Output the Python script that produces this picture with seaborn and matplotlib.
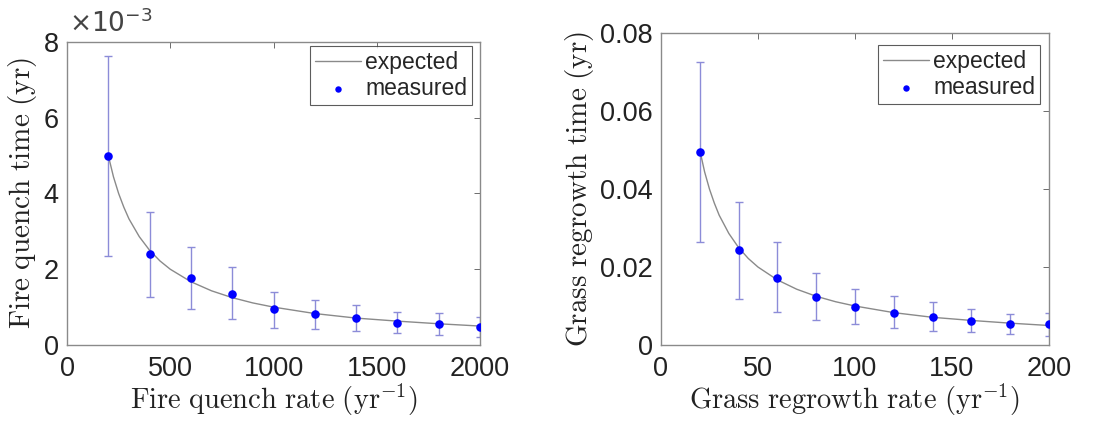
import matplotlib
matplotlib.use("Agg")
import matplotlib.pyplot as plt
import seaborn as sns
import pandas as pd

# ---- data ----
fire_rate = [200, 400, 600, 800, 1000, 1200, 1400, 1600, 1800, 2000]
fire_time = [5.0e-3, 2.40e-3, 1.76e-3, 1.35e-3, 0.94e-3, 0.81e-3, 0.70e-3, 0.59e-3, 0.56e-3, 0.48e-3]
fire_upper = [7.62e-3, 3.52e-3, 2.60e-3, 2.05e-3, 1.41e-3, 1.19e-3, 1.06e-3, 0.88e-3, 0.84e-3, 0.75e-3]
fire_lower = [2.35e-3, 1.28e-3, 0.94e-3, 0.68e-3, 0.44e-3, 0.41e-3, 0.37e-3, 0.31e-3, 0.26e-3, 0.22e-3]
fire_curve_rate = [200, 225, 250, 275, 300, 350, 400, 450, 500, 600, 700, 800, 900, 1000, 1200, 1400, 1600, 1800, 2000]
fire_curve_time = [5.0e-3, 4.44e-3, 4.0e-3, 3.64e-3, 3.33e-3, 2.86e-3, 2.5e-3, 2.22e-3, 2.0e-3, 1.67e-3,
                   1.43e-3, 1.25e-3, 1.11e-3, 1.0e-3, 0.83e-3, 0.71e-3, 0.63e-3, 0.56e-3, 0.5e-3]

grass_rate = [20, 40, 60, 80, 100, 120, 140, 160, 180, 200]
grass_time = [0.0496, 0.0244, 0.0173, 0.0124, 0.0097, 0.0081, 0.0073, 0.0062, 0.0054, 0.0054]
grass_upper = [0.0727, 0.0366, 0.0265, 0.0184, 0.0144, 0.0126, 0.0111, 0.0092, 0.0080, 0.0081]
grass_lower = [0.0263, 0.0118, 0.0084, 0.0064, 0.0053, 0.0043, 0.0036, 0.0033, 0.0028, 0.0024]
grass_curve_rate = [20, 22.5, 25, 27.5, 30, 35, 40, 45, 50, 60, 70, 80, 90, 100, 120, 140, 160, 180, 200]
grass_curve_time = [0.05, 0.0444, 0.04, 0.0364, 0.0333, 0.0286, 0.025, 0.0222, 0.02, 0.0167,
                    0.0143, 0.0125, 0.0111, 0.01, 0.0083, 0.0071, 0.0063, 0.0056, 0.005]

sns.set_theme(style="white")
plt.rcParams['font.family'] = ['Liberation Sans', 'DejaVu Sans']
plt.rcParams['mathtext.fontset'] = 'cm'

fig = plt.figure(figsize=(11.02, 4.22), dpi=100)
ax1 = fig.add_axes([0.0608, 0.1825, 0.3748, 0.718])
ax2 = fig.add_axes([0.5998, 0.1825, 0.352, 0.739])


def panel(ax, rate, time, up, lo, crate, ctime, xlim, ylim, xticks, yticks, xlabel, ylabel, anchor):
    dfc = pd.DataFrame({"rate": crate, "time": ctime})
    sns.lineplot(data=dfc, x="rate", y="time", ax=ax, color="#8a8a8a", linewidth=1.0,
                 label="expected", zorder=2)
    yerr = [[t - l for t, l in zip(time, lo)], [u - t for u, t in zip(up, time)]]
    eb = ax.errorbar(rate, time, yerr=yerr, fmt="none", ecolor="#8c8cd8", elinewidth=1.0,
                     capsize=3, capthick=1.0, zorder=1)
    for cap in eb[1]:
        cap.set_color("#404040")
    dfp = pd.DataFrame({"rate": rate, "time": time})
    sns.scatterplot(data=dfp, x="rate", y="time", ax=ax, color="#0000ff", s=38,
                    edgecolor="#0000ff", linewidth=0, label="measured", zorder=3)
    ax.set_xlim(*xlim)
    ax.set_ylim(*ylim)
    ax.set_xticks(xticks)
    ax.set_yticks(yticks)
    ax.tick_params(direction="in", top=True, right=True, length=4, width=0.6,
                   color="#555555", labelsize=19.5, labelcolor="#222222")
    ax.tick_params(axis="x", pad=8)
    ax.tick_params(axis="y", pad=6)
    for s in ax.spines.values():
        s.set_color("#8a8a8a")
        s.set_linewidth(1.0)
    ax.set_xlabel(xlabel, fontsize=20.5, labelpad=0, color="#222222")
    ax.set_ylabel(ylabel, fontsize=21, labelpad=3, color="#222222")
    leg = ax.legend(loc="upper right", bbox_to_anchor=anchor, fontsize=16.5, frameon=True,
                    fancybox=False, edgecolor="#333333", handlelength=2.0, handletextpad=0.2,
                    borderpad=0.2, labelspacing=0.15, borderaxespad=0.0, markerscale=0.75)
    leg.get_frame().set_linewidth(0.8)


panel(ax1, fire_rate, fire_time, fire_upper, fire_lower, fire_curve_rate, fire_curve_time,
      (0, 2000), (0, 8e-3), [0, 500, 1000, 1500, 2000], [0, 2e-3, 4e-3, 6e-3, 8e-3],
      r"$\mathrm{Fire\ quench\ rate\ (yr^{-1})}$", r"$\mathrm{Fire\ quench\ time\ (yr)}$",
      (1 - 8 / 413, 1 - 4 / 303))
ax1.set_yticklabels(["0", "2", "4", "6", "8"])
ax1.text(0.005, 1.015, r"$\times10^{-3}$", transform=ax1.transAxes, fontsize=19,
         ha="left", va="bottom", color="#444444", math_fontfamily="dejavusans")

panel(ax2, grass_rate, grass_time, grass_upper, grass_lower, grass_curve_rate, grass_curve_time,
      (0, 200), (0, 0.08), [0, 50, 100, 150, 200], [0, 0.02, 0.04, 0.06, 0.08],
      r"$\mathrm{Grass\ regrowth\ rate\ (yr^{-1})}$", r"$\mathrm{Grass\ regrowth\ time\ (yr)}$",
      (1 - 9 / 388, 1 - 12 / 312))
ax2.set_yticklabels(["0", "0.02", "0.04", "0.06", "0.08"])

fig.savefig("out.png", dpi=100)
